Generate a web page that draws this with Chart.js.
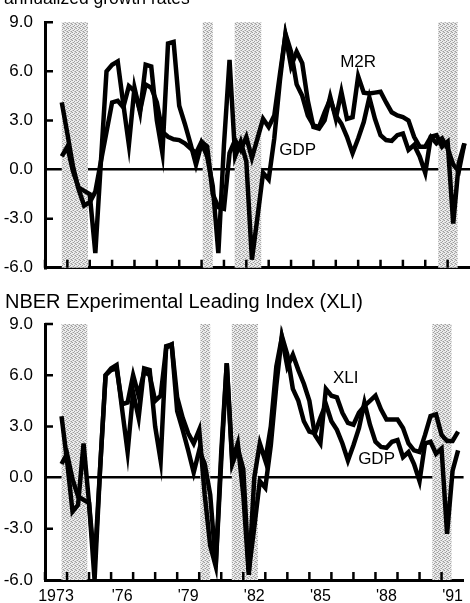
<!DOCTYPE html>
<html>
<head>
<meta charset="utf-8">
<script src="https://cdn.jsdelivr.net/npm/chart.js@4.4.0/dist/chart.umd.min.js"></script>
<style>
  html, body { margin: 0; padding: 0; background: #fff; }
  body { width: 470px; height: 603px; position: relative; overflow: hidden; }
  canvas { position: absolute; left: 0; }
  #topChart { top: 0; }
  #bottomChart { top: 290px; }
</style>
</head>
<body>
<canvas id="topChart" width="470" height="290"></canvas>
<canvas id="bottomChart" width="470" height="313"></canvas>
<script>
// quarterly annualized growth rates, first observation 1973 Q4
const firstQuarter = 1973.75;

const gdp = [
  0.8, 1.4, -0.1, -1.1, -1.3, -1.5, -5.1, 0.5, 6.0, 6.4,
  6.6, 4.0, 1.5, 5.0, 3.5, 6.4, 6.3, 3.0, 1.0, 7.7,
  7.8, 3.9, 2.8, 1.6, 0.3, 1.6, 0.8, -1.0, -5.1, 1.5,
  6.7, 0.8, 1.7, 0.5, -5.5, -2.9, -0.2, -0.6, 1.9, 5.4,
  8.3, 7.2, 5.2, 4.5, 3.3, 2.7, 2.6, 3.5, 4.3, 3.3,
  2.8, 2.0, 1.0, 1.9, 2.9, 4.4, 3.1, 2.1, 1.8, 1.75,
  2.1, 2.2, 1.2, 1.5, 0.8, -0.2, 2.0, 2.1, 1.4, 1.7,
  -3.3, 0.4, 1.6
];

const m2r = [
  4.1, 2.2, 0.2, -1.2, -2.2, -2.0, -1.35, 0.5, 2.3, 4.1,
  4.2, 3.8, 5.1, 4.8, 3.6, 5.2, 5.0, 4.1, 2.3, 2.0,
  1.85, 1.8, 1.6, 1.3, 1.0, 1.7, 1.4, -1.5, -2.3, -2.4,
  1.0, 1.8, 1.2, 2.0, 0.7, 1.9, 3.1, 2.6, 3.3, 5.8,
  8.2, 6.3, 7.2, 6.5, 4.2, 2.6, 2.5, 3.0, 4.45, 3.1,
  4.75, 3.1, 3.2, 5.7, 4.7, 4.65, 4.7, 4.75, 4.1, 3.5,
  3.3, 3.2, 3.0, 2.0, 1.4, 1.4, 2.0, 1.6, 1.9, 1.3,
  0.3, -0.1, 1.6
];

const xli = [
  3.6, 1.0, -2.0, -1.6, 2.0, -1.5, -6.0, 0.5, 6.0, 6.3,
  6.4, 4.3, 4.4, 6.0, 4.8, 6.2, 6.0, 4.5, 4.8, 7.6,
  7.8, 4.7, 3.5, 2.6, 2.0, 2.8, -1.0, -4.0, -5.2, 1.0,
  6.7, 1.0, 2.0, -1.0, -5.7, 0.0, 2.0, 1.0, 3.0, 6.5,
  8.2, 6.5, 7.2, 6.3, 5.5, 4.5, 2.5, 2.0, 5.2, 4.8,
  4.7, 3.8, 3.2, 3.1, 3.8, 4.2, 4.5, 4.8, 4.0, 3.4,
  3.4, 3.4, 2.9, 2.0, 1.6, 1.5, 2.5, 3.6, 3.7, 2.5,
  2.15, 2.15, 2.7
];

// NBER recessions (peak to trough)
const recessionStart = [1973.75, 1980.05, 1981.48, 1990.58];
const recessionEnd   = [1974.92, 1980.50, 1982.67, 1991.45];

const yearTicks = [1973, 1974, 1975, 1976, 1977, 1978, 1979, 1980, 1981, 1982,
                   1983, 1984, 1985, 1986, 1987, 1988, 1989, 1990, 1991];
const yearLabels = ['1973', "'76", "'79", "'82", "'85", "'88", "'91"];
const yearLabelPos = [1973.5, 1976.5, 1979.5, 1982.5, 1985.5, 1988.5, 1991.5];

const FONT = 'Liberation Sans';
Chart.defaults.font.family = FONT;
Chart.defaults.color = '#000';

function toPoints(values) {
  return values.map((v, i) => ({ x: firstQuarter + i * 0.25, y: v }));
}

// stippled gray used for the recession bands
function makeStipple(ctx) {
  const c = document.createElement('canvas');
  c.width = 4; c.height = 4;
  const p = c.getContext('2d');
  p.fillStyle = '#ededed'; p.fillRect(0, 0, 4, 4);
  p.fillStyle = '#9e9e9e';
  [[0, 0], [2, 1], [1, 2], [3, 3]].forEach(([x, y]) => p.fillRect(x, y, 1, 1));
  p.fillStyle = '#c6c6c6';
  [[2, 3], [0, 2], [3, 0]].forEach(([x, y]) => p.fillRect(x, y, 1, 1));
  return ctx.createPattern(c, 'repeat');
}

const recessionBands = {
  id: 'recessionBands',
  beforeDatasetsDraw(chart) {
    const { ctx, chartArea, scales } = chart;
    ctx.save();
    ctx.fillStyle = makeStipple(ctx);
    recessionStart.forEach((s, i) => {
      const x0 = scales.x.getPixelForValue(s);
      const x1 = scales.x.getPixelForValue(recessionEnd[i]);
      ctx.fillRect(x0, chartArea.top, x1 - x0, chartArea.bottom - chartArea.top);
    });
    ctx.restore();
  }
};

// short tick marks pointing into the plot from both axes
const innerTicks = {
  id: 'innerTicks',
  afterDraw(chart) {
    const { ctx, chartArea, scales } = chart;
    ctx.save();
    ctx.strokeStyle = '#000';
    ctx.lineWidth = 2.5;
    ctx.beginPath();
    yearTicks.forEach(yr => {
      const x = scales.x.getPixelForValue(yr);
      ctx.moveTo(x, chartArea.bottom);
      ctx.lineTo(x, chartArea.bottom - 8);
    });
    [9, 6, 3, -3].forEach(v => {
      const y = scales.y.getPixelForValue(v);
      ctx.moveTo(chartArea.left, y);
      ctx.lineTo(chartArea.left + 8, y);
    });
    ctx.stroke();
    ctx.restore();
  }
};

// panel title and series names
const panelText = {
  id: 'panelText',
  afterDraw(chart, args, opts) {
    const { ctx, scales } = chart;
    ctx.save();
    ctx.fillStyle = '#000';
    ctx.textBaseline = 'alphabetic';
    ctx.textAlign = 'left';
    ctx.font = opts.titleSize + 'px "' + FONT + '"';
    ctx.fillText(opts.title, opts.titleX, opts.titleY);
    ctx.font = '17px "' + FONT + '"';
    ctx.textAlign = 'center';
    ctx.textBaseline = 'middle';
    opts.names.forEach(n => {
      ctx.fillText(n.text, scales.x.getPixelForValue(n.x), scales.y.getPixelForValue(n.y));
    });
    ctx.restore();
  }
};

function lineSet(values) {
  return {
    data: toPoints(values),
    borderColor: '#000',
    borderWidth: 4.5,
    pointRadius: 0,
    tension: 0,
    fill: false
  };
}

function makePanel(canvasId, series, padTop, axisHeight, showLabels, textOpts) {
  return new Chart(document.getElementById(canvasId), {
    type: 'line',
    data: { datasets: series.map(lineSet) },
    options: {
      responsive: false,
      animation: false,
      layout: { padding: { top: padTop, left: 0, right: 0, bottom: 0 }, autoPadding: false },
      plugins: {
        legend: { display: false },
        tooltip: { enabled: false },
        panelText: textOpts
      },
      scales: {
        x: {
          type: 'linear',
          min: 1973,
          max: 1992,
          afterBuildTicks: (axis) => {
            axis.ticks = yearLabelPos.map(v => ({ value: v }));
          },
          afterFit: (axis) => { axis.height = axisHeight; },
          ticks: {
            display: showLabels,
            autoSkip: false,
            maxRotation: 0,
            padding: 7,
            font: { size: 16 },
            callback: (v, i) => yearLabels[i]
          },
          grid: { display: true, drawOnChartArea: false, drawTicks: false, color: 'transparent' },
          border: { display: true, color: '#000', width: 3 }
        },
        y: {
          min: -6,
          max: 9,
          afterFit: (axis) => { axis.width = 45; },
          ticks: {
            stepSize: 3,
            padding: 12,
            font: { size: 17 },
            callback: (v) => v.toFixed(1)
          },
          grid: {
            drawTicks: false,
            color: (c) => (c.tick && c.tick.value === 0 ? '#000' : 'transparent'),
            lineWidth: 2.5
          },
          border: { display: true, color: '#000', width: 3 }
        }
      }
    },
    plugins: [recessionBands, innerTicks, panelText]
  });
}

makePanel('topChart', [m2r, gdp], 14, 19, false, {
  title: 'annualized growth rates', titleSize: 17.5, titleX: 4, titleY: 4,
  names: [ { text: 'M2R', x: 1987.0, y: 6.55 }, { text: 'GDP', x: 1984.3, y: 1.2 } ]
});

makePanel('bottomChart', [xli, gdp], 34, 23, true, {
  title: 'NBER Experimental Leading Index (XLI)', titleSize: 20, titleX: 5, titleY: 18,
  names: [ { text: 'XLI', x: 1986.65, y: 5.8 }, { text: 'GDP', x: 1988.05, y: 1.05 } ]
});
</script>
</body>
</html>
